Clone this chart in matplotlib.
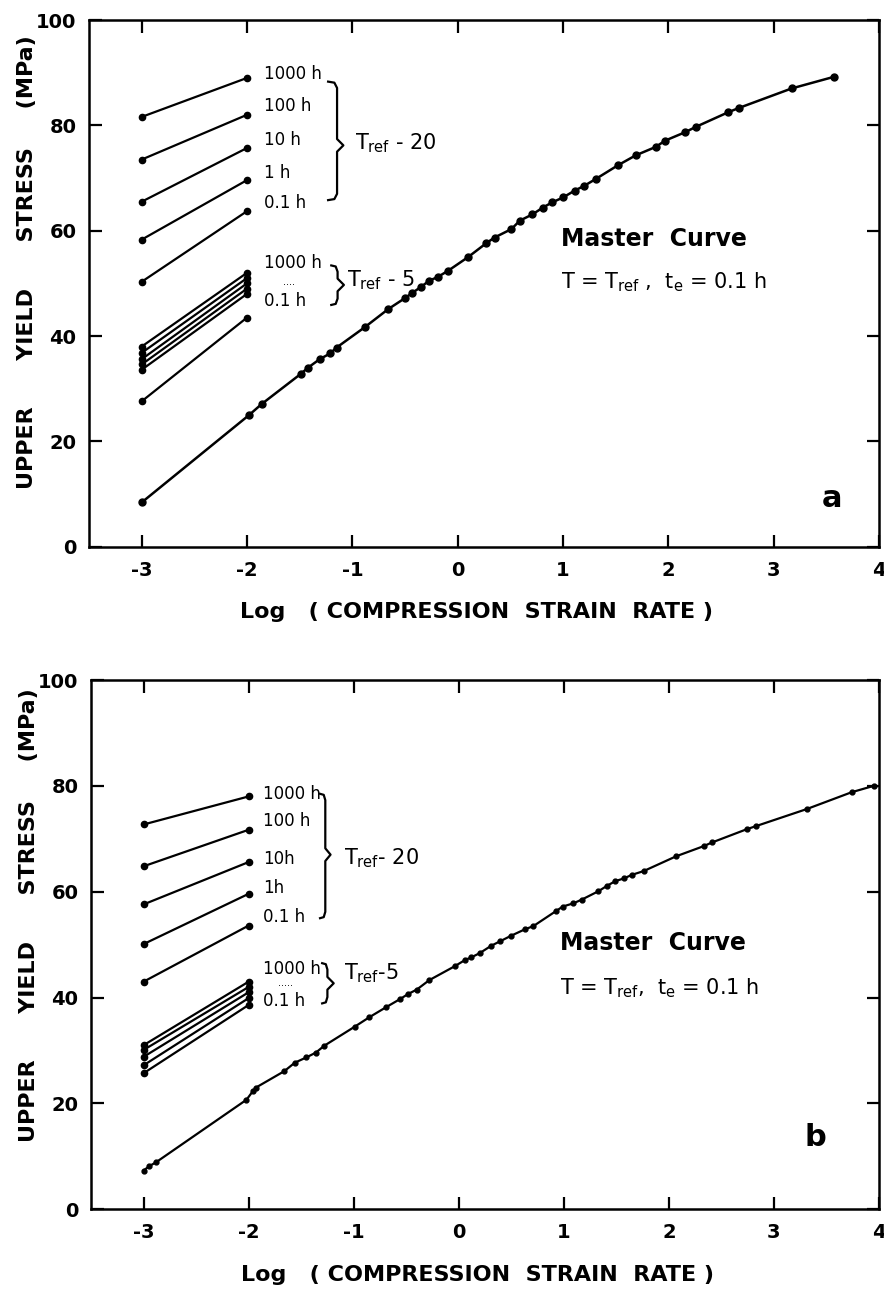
import matplotlib
matplotlib.use("Agg")
from matplotlib import pyplot as plt

plt.rcParams['font.family'] = ['DejaVu Sans']
plt.rcParams['mathtext.default'] = 'regular'
plt.rcParams['axes.unicode_minus'] = False

# short two-point lines at log rate -3 and -2
rate_pair = [-3, -2]
age_labels = ['1000 h', '100 h', '10 h', '1 h', '0.1 h']

# panel a
a_t20_lo = [81.6, 73.5, 65.5, 58.3, 50.3]
a_t20_hi = [89.0, 82.0, 75.7, 69.6, 63.7]
a_t5_lo = [38.0, 36.8, 35.6, 34.6, 33.6]
a_t5_hi = [52.0, 51.0, 50.0, 49.0, 48.0]
a_extra_lo = 27.6
a_extra_hi = 43.5
a_master_x = [-3.00, -1.98, -1.86, -1.49, -1.42, -1.31, -1.21, -1.15, -0.88,
              -0.66, -0.50, -0.43, -0.35, -0.27, -0.19, -0.09, 0.10, 0.27,
              0.35, 0.51, 0.59, 0.71, 0.81, 0.90, 1.00, 1.11, 1.20, 1.31,
              1.52, 1.69, 1.88, 1.97, 2.16, 2.26, 2.57, 2.67, 3.17, 3.57]
a_master_y = [8.4, 25.0, 27.1, 32.8, 34.0, 35.6, 36.7, 37.8, 41.7,
              45.1, 47.2, 48.2, 49.3, 50.5, 51.2, 52.4, 55.0, 57.6,
              58.7, 60.3, 61.9, 63.1, 64.4, 65.4, 66.3, 67.6, 68.5, 69.8,
              72.4, 74.3, 75.9, 77.1, 78.7, 79.7, 82.5, 83.3, 87.0, 89.2]

# panel b
b_t20_lo = [72.7, 64.8, 57.6, 50.1, 43.0]
b_t20_hi = [78.0, 71.7, 65.6, 59.6, 53.6]
b_t5_lo = [31.0, 30.1, 28.8, 27.2, 25.7]
b_t5_hi = [43.0, 42.0, 41.0, 39.9, 38.6]
b_master_x = [-3.00, -2.95, -2.88, -2.02, -1.96, -1.93, -1.66, -1.56, -1.45,
              -1.36, -1.28, -0.99, -0.85, -0.69, -0.56, -0.48, -0.40, -0.28,
              -0.04, 0.06, 0.12, 0.20, 0.31, 0.39, 0.50, 0.63, 0.71, 0.93,
              0.99, 1.09, 1.17, 1.33, 1.41, 1.49, 1.57, 1.65, 1.76, 2.07,
              2.33, 2.41, 2.74, 2.83, 3.31, 3.74, 3.95]
b_master_y = [7.3, 8.1, 8.9, 20.7, 22.3, 23.0, 26.1, 27.7, 28.7,
              29.6, 30.9, 34.5, 36.3, 38.2, 39.7, 40.7, 41.5, 43.3,
              45.9, 47.1, 47.6, 48.4, 49.8, 50.6, 51.7, 52.9, 53.5, 56.4,
              57.2, 57.8, 58.5, 60.1, 61.1, 62.0, 62.5, 63.2, 63.9, 66.7,
              68.6, 69.3, 71.8, 72.4, 75.6, 78.8, 80.0]

x_ticks = [-3, -2, -1, 0, 1, 2, 3, 4]
y_ticks = [0, 20, 40, 60, 80, 100]


def brace(ax, x, y_top, y_bot, y_tip, w_hook, w_tip):
    d = 1.2
    xs = [x - w_hook, x - w_hook * 0.3, x, x, x + w_tip, x, x, x - w_hook * 0.3, x - w_hook]
    ys = [y_top, y_top - 0.2, y_top - d, y_tip + d, y_tip, y_tip - d, y_bot + d, y_bot + 0.2, y_bot]
    ax.plot(xs, ys, color='black', lw=1.6, solid_joinstyle='round')


def setup(ax, ylab_y):
    ax.set_xlim(-3.5, 4)
    ax.set_ylim(0, 100)
    ax.set_xticks(x_ticks)
    ax.set_xticklabels([str(t) for t in x_ticks])
    ax.set_yticks(y_ticks)
    ax.set_yticklabels([str(t) for t in y_ticks])
    ax.tick_params(direction='in', length=9, width=1.6, top=True, right=True,
                   labelsize=14)
    ax.tick_params(axis='x', pad=10)
    ax.tick_params(axis='y', pad=9)
    for lab in ax.get_xticklabels() + ax.get_yticklabels():
        lab.set_fontweight('bold')
    for sp in ax.spines.values():
        sp.set_linewidth(1.8)
    ax.set_xlabel('Log   ( COMPRESSION  STRAIN  RATE )', fontsize=16,
                  fontweight='bold')
    ax.xaxis.set_label_coords(0.49, -0.105)
    ax.set_ylabel('UPPER      YIELD      STRESS     (MPa)', fontsize=16,
                  fontweight='bold')
    ax.yaxis.set_label_coords(-0.066, ylab_y)


def short_lines(ax, lo, hi):
    for y0, y1 in zip(lo, hi):
        ax.plot(rate_pair, [y0, y1], color='black', lw=1.6, marker='o', ms=4.5)


fig = plt.figure(figsize=(8.84, 12.93), dpi=100)
ax_a = fig.add_axes([89 / 884, 1 - 546.7 / 1293, 790 / 884, 526.7 / 1293])
ax_b = fig.add_axes([91 / 884, 1 - 1209.3 / 1293, 788 / 884, 529.3 / 1293])

# --- panel a ---
setup(ax_a, 0.54)
short_lines(ax_a, a_t20_lo, a_t20_hi)
short_lines(ax_a, a_t5_lo, a_t5_hi)
ax_a.plot(rate_pair, [a_extra_lo, a_extra_hi], color='black', lw=1.6, marker='o', ms=4.5)
ax_a.plot(a_master_x, a_master_y, color='black', lw=1.8, marker='o', ms=5)

for lab, y in zip(age_labels, [89.8, 83.6, 77.3, 70.9, 65.3]):
    ax_a.text(-1.84, y, lab, fontsize=12, ha='left', va='center')
brace(ax_a, -1.145, 88.3, 65.8, 76.2, 0.085, 0.06)
ax_a.text(-0.97, 76.6, r'T$_{ref}$ - 20', fontsize=15, ha='left', va='center')

ax_a.text(-1.84, 53.8, '1000 h', fontsize=12, ha='left', va='center')
ax_a.text(-1.66, 49.6, '....', fontsize=7, ha='left', va='baseline')
ax_a.text(-1.84, 46.6, '0.1 h', fontsize=12, ha='left', va='center')
brace(ax_a, -1.14, 53.4, 45.9, 49.7, 0.06, 0.06)
ax_a.text(-1.05, 50.6, r'T$_{ref}$ - 5', fontsize=15, ha='left', va='center')

ax_a.text(0.98, 58.5, 'Master  Curve', fontsize=17, fontweight='bold',
          ha='left', va='center')
ax_a.text(0.98, 50.3, r'T = T$_{ref}$ ,  t$_{e}$ = 0.1 h', fontsize=15,
          ha='left', va='center')
ax_a.text(3.55, 9.2, 'a', fontsize=22, fontweight='bold', ha='center', va='center')

# --- panel b ---
setup(ax_b, 0.556)
short_lines(ax_b, b_t20_lo, b_t20_hi)
short_lines(ax_b, b_t5_lo, b_t5_hi)
ax_b.plot(b_master_x, b_master_y, color='black', lw=1.6, marker='o', ms=3.5)

for lab, y in zip(['1000 h', '100 h', '10h', '1h', '0.1 h'],
                  [78.5, 73.3, 66.2, 60.7, 55.2]):
    ax_b.text(-1.86, y, lab, fontsize=12, ha='left', va='center')
brace(ax_b, -1.27, 78.5, 55.0, 67.0, 0.05, 0.05)
ax_b.text(-1.09, 66.4, r'T$_{ref}$- 20', fontsize=15, ha='left', va='center')

ax_b.text(-1.86, 45.4, '1000 h', fontsize=12, ha='left', va='center')
ax_b.text(-1.72, 42.2, '.....', fontsize=7, ha='left', va='baseline')
ax_b.text(-1.86, 39.4, '0.1 h', fontsize=12, ha='left', va='center')
brace(ax_b, -1.25, 46.5, 38.9, 42.7, 0.05, 0.06)
ax_b.text(-1.09, 44.6, r'T$_{ref}$-5', fontsize=15, ha='left', va='center')

ax_b.text(0.96, 50.3, 'Master  Curve', fontsize=17, fontweight='bold',
          ha='left', va='center')
ax_b.text(0.96, 41.8, r'T = T$_{ref}$,  t$_{e}$ = 0.1 h', fontsize=15,
          ha='left', va='center')
ax_b.text(3.39, 13.5, 'b', fontsize=22, fontweight='bold', ha='center', va='center')

fig.savefig('out.png', dpi=100)
